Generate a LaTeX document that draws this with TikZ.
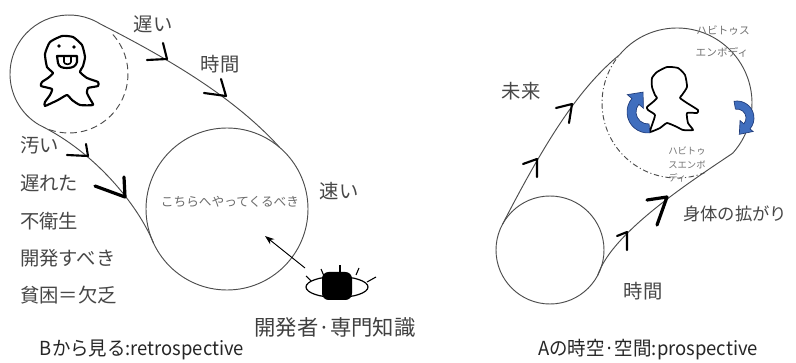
\documentclass[tikz,border=0pt]{standalone}
\usepackage{fontspec}
\usepackage{graphicx}
\setmainfont{Noto Sans CJK JP}
\usetikzlibrary{arrows.meta,calc}

\begin{document}
\begin{tikzpicture}[x=0.75pt,y=-0.75pt,
  outline/.style={draw=black!70, line width=0.7pt},
  handarrow/.style={draw=black, line width=1.6pt, line cap=round, line join=round},
  handarrowthick/.style={handarrow, line width=2.4pt},
  lbl/.style={inner sep=0pt, text=black!72, font=\fontsize{14.5}{14.5}\selectfont},
  smalllbl/.style={inner sep=0pt, text=black!55, font=\fontsize{8}{8}\selectfont},
  tinylbl/.style={inner sep=0pt, text=black!55, font=\fontsize{7}{7}\selectfont},
  person/.style={draw=black, line width=1.6pt, fill=white, line join=round},
  bluearrow/.style={fill={rgb,255:red,64;green,110;blue,190}, draw={rgb,255:red,30;green,58;blue,120}, line width=0.5pt},
]
\useasboundingbox (0,0) rectangle (796,363);
\fill[white] (0,0) rectangle (796,363);

% circle centres
\coordinate (c1) at (69,74);
\coordinate (c2) at (227,209);
\coordinate (c3) at (677,103);
\coordinate (c4) at (550,250);

% ---------------- left: retrospective view ----------------
\draw[outline] ([shift={(c1)}]-58:59) arc[start angle=-58, end angle=-240, radius=59];
\draw[outline, dash pattern=on 5pt off 3pt] ([shift={(c1)}]-42:59) arc[start angle=-42, end angle=112, radius=59];
\draw[outline] (c2) circle[radius=81];
\draw[outline] ([shift={(c1)}]-58:59) .. controls (168,58.5) and (234,97) .. ([shift={(c2)}]-49.5:81);
\draw[outline] ([shift={(c1)}]120:59) .. controls (95,152) and (138,205) .. ([shift={(c2)}]155:81);

% hand-drawn arrow marks
\draw[handarrow] (147,60) -- (167,59) -- (163,43);
\draw[handarrow] (204,93) -- (226,96) -- (221,79);
\draw[handarrow] (67,155) -- (88,156) -- (86,144);
\draw[handarrowthick] (95,186) -- (125,197) -- (124,177);

% figure in the small circle
\draw[person] plot[smooth cycle, tension=0.3] coordinates {
  (47,67) (45,54) (50,42) (62,36) (73,37) (82,45) (85,57) (83,66) (80,72)
  (87,78) (98,82) (98,86) (88,88) (87,93) (90,99) (93,105) (80,105) (72,100)
  (67,95) (58,100) (45,106) (45,102) (50,95) (52,89) (41,86) (42,82) (48,78) (53,73)};
\fill (59,46) circle[radius=1.8];
\fill (74,47) circle[radius=1.8];
\draw[person] (57,56) -- (58,63) .. controls (59,67) and (62,68) .. (67,68)
  .. controls (73,68) and (76,66) .. (77,62) -- (77,56) -- cycle;
\draw[line width=1.2pt] (64,57) -- (64,62) .. controls (64,65) and (71,65) .. (71,62) -- (71,57);

% eye of the developer
\coordinate (eye) at (337,287);
\draw[line width=0.9pt] (eye) ellipse[x radius=31, y radius=10.5];
\fill[black, rounded corners=5pt] (322,272) rectangle (352,300);
\draw[line width=0.8pt] (311,281) -- (306,276);
\draw[line width=0.8pt] (324,276) -- (321,269);
\draw[line width=0.8pt] (340,274) -- (340,265);
\draw[line width=0.8pt] (356,275) -- (359,268);
\draw[line width=0.8pt] (367,282) -- (376,277);
\coordinate (gazefrom) at (305,268);
\coordinate (gazeto) at (265,236);
\draw[line width=0.7pt, -{Stealth[length=7pt,width=5pt]}] (gazefrom) -- (gazeto);

% labels
\node[lbl] (slow) at (153,24) {遅い};
\node[lbl] (timeL) at (220,64) {時間};
\node[lbl, anchor=west] (dirty) at (20,145) {汚い};
\node[lbl, anchor=west] (late) at (20,183) {遅れた};
\node[lbl, anchor=west] (unsan) at (20,221) {不衛生};
\node[lbl, anchor=west] (devel) at (20,258) {開発すべき};
\node[lbl, anchor=west] (poor) at (20,295) {貧困＝欠乏};
\node[lbl] (fast) at (339,191) {速い};
\node[inner sep=0pt, text=black!58, font=\fontsize{9.5}{9.5}\selectfont] (come) at (230,202) {こちらへやってくるべき};
\node[inner sep=0pt, text=black!75, font=\fontsize{16}{16}\selectfont] (expert) at (335,327) {開発者·専門知識};
\node[inner sep=0pt, text=black!85] (capB) at (142,350)
  {\resizebox{153pt}{\height}{\fontsize{14.5}{14.5}\selectfont Bから見る:retrospective}};

% ---------------- right: prospective view ----------------
\draw[outline] ([shift={(c3)}]220:75) arc[start angle=220, end angle=402, radius=75];
\draw[outline, dash pattern=on 4pt off 2pt on 0.8pt off 2pt] ([shift={(c3)}]68:75) arc[start angle=68, end angle=220, radius=75];
\draw[outline] (c4) circle[radius=54];
\draw[outline] ([shift={(c4)}]208:54) .. controls (549,134) and (581.5,86) .. ([shift={(c3)}]220:75);
\draw[outline] ([shift={(c4)}]28:54) .. controls (612,232) and (693,180) .. ([shift={(c3)}]42:75);

\draw[handarrow] (523,164) -- (537,159) -- (537,177);
\draw[handarrow] (556,108) -- (572,104) -- (569,123);
\draw[handarrow] (617,236) -- (627,232) -- (627,250);
\draw[handarrowthick] (647,200) -- (667,197) -- (657,225);

% figure in the large circle
\draw[person, line width=1.3pt] plot[smooth cycle, tension=0.3] coordinates {
  (657,72) (667,67) (678,68) (685,75) (687,87) (682,95) (680,98) (687,103)
  (698,110) (697,113) (687,113) (688,123) (693,130) (683,130) (677,127) (667,123)
  (660,128) (650,132) (652,125) (655,115) (648,110) (647,107) (653,102) (657,98)
  (655,95) (652,87) (652,78)};

% circulating arrows
\filldraw[bluearrow] ([shift={(648,112)}]85:21) arc[start angle=85, end angle=220, radius=21]
  -- ([shift={(648,112)}]220:27) -- ([shift={(648,112)}]256:20.5) -- ([shift={(648,112)}]220:6)
  -- ([shift={(648,112)}]220:12) arc[start angle=220, end angle=85, radius=12] -- cycle;
\filldraw[bluearrow] ([shift={(737,118)}]-100:17) arc[start angle=-100, end angle=40, radius=17]
  -- ([shift={(737,118)}]40:21) -- ([shift={(737,118)}]82:16.5) -- ([shift={(737,118)}]40:4)
  -- ([shift={(737,118)}]40:9) arc[start angle=40, end angle=-100, radius=9] -- cycle;

\node[lbl] (future) at (521,91) {未来};
\node[smalllbl] (hab1) at (723,31) {ハビトゥス};
\node[smalllbl] (emb1) at (722,52) {エンボディ};
\node[tinylbl, anchor=west] (hab2) at (668,151.5) {ハビトゥ};
\node[tinylbl, anchor=west] (emb2) at (668,165) {スエンボ};
\node[tinylbl, anchor=west] (emb3) at (668,178) {ディ};
\node[lbl, font=\fontsize{13}{13}\selectfont] (body) at (735,214) {身体の拡がり};
\node[lbl] (timeR) at (643,291) {時間};
\node[inner sep=0pt, text=black!85] (capA) at (648,350)
  {\resizebox{165pt}{\height}{\fontsize{14.5}{14.5}\selectfont Aの時空·空間:prospective}};
\end{tikzpicture}
\end{document}
